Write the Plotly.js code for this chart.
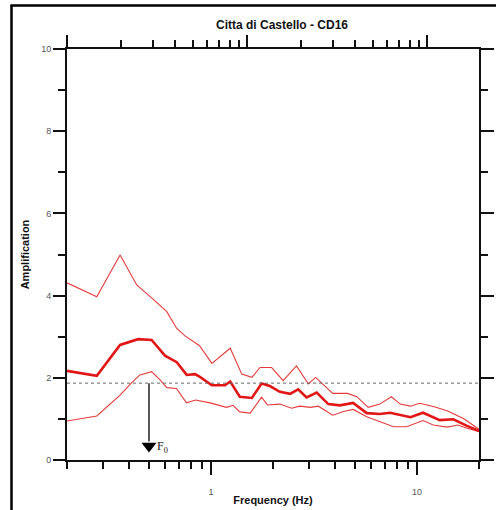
<!DOCTYPE html>
<html>
<head>
<meta charset="utf-8">
<script src="https://cdn.plot.ly/plotly-3.0.1.min.js"></script>
<style>
  html, body { margin: 0; padding: 0; background: #fff; }
  #chart { width: 496px; height: 510px; }
</style>
</head>
<body>
<div id="chart"></div>
<script>
// Mean H/V amplification curve (Hz, amplification)
const freqMean = [0.2, 0.279, 0.362, 0.443, 0.515, 0.598, 0.682, 0.762, 0.836, 0.88, 1.01, 1.17, 1.24, 1.38, 1.58, 1.76, 1.93, 2.16, 2.42, 2.65, 2.91, 3.26, 3.71, 4.22, 4.9, 5.7, 6.6, 7.4, 9.3, 10.7, 12.9, 15, 17.5, 20];
const ampMean  = [2.17, 2.05, 2.80, 2.94, 2.92, 2.54, 2.38, 2.07, 2.09, 2.03, 1.82, 1.82, 1.91, 1.54, 1.51, 1.86, 1.80, 1.66, 1.61, 1.72, 1.52, 1.64, 1.36, 1.33, 1.39, 1.14, 1.12, 1.15, 1.04, 1.15, 0.97, 0.99, 0.83, 0.71];

// Mean + one standard deviation
const freqUpper = [0.2, 0.279, 0.362, 0.436, 0.525, 0.61, 0.682, 0.748, 0.88, 1.01, 1.24, 1.41, 1.58, 1.73, 1.97, 2.24, 2.6, 2.97, 3.22, 3.58, 3.9, 4.6, 5.1, 5.8, 6.6, 7.5, 8.3, 9.3, 10.3, 12, 14, 16.8, 20];
const ampUpper  = [4.31, 3.97, 4.99, 4.26, 3.91, 3.61, 3.20, 3.02, 2.78, 2.35, 2.72, 2.09, 2.01, 2.25, 2.25, 1.93, 2.29, 1.85, 2.01, 1.80, 1.62, 1.62, 1.54, 1.28, 1.36, 1.54, 1.36, 1.31, 1.38, 1.30, 1.20, 1.01, 0.75];

// Mean - one standard deviation
const freqLower = [0.2, 0.279, 0.362, 0.41, 0.452, 0.515, 0.566, 0.61, 0.68, 0.76, 0.84, 0.99, 1.19, 1.28, 1.38, 1.55, 1.76, 1.88, 2.16, 2.46, 2.7, 3.04, 3.32, 3.9, 4.4, 4.9, 5.7, 6.6, 7.7, 8.9, 10.7, 12, 14, 15.8, 17.5, 20];
const ampLower  = [0.95, 1.07, 1.58, 1.87, 2.07, 2.15, 1.95, 1.76, 1.74, 1.39, 1.46, 1.39, 1.28, 1.33, 1.17, 1.14, 1.53, 1.34, 1.36, 1.26, 1.31, 1.28, 1.31, 1.09, 1.18, 1.23, 1.05, 0.93, 0.81, 0.81, 0.96, 0.85, 0.80, 0.85, 0.77, 0.69];

// Fundamental frequency and reference amplification level
const f0 = 0.5;
const refLevel = 1.87;

// Tick values
const xMajorTicks = [1, 10];
const xMinorTicks = [0.2, 0.3, 0.4, 0.5, 0.6, 0.7, 0.8, 0.9, 2, 3, 4, 5, 6, 7, 8, 9, 20];
const yMajorTicks = [0, 2, 4, 6, 8, 10];
const yMinorTicks = [1, 3, 5, 7, 9];
const topMajorTicks = [1, 10, 100];
const topMinorTicks = [2, 3, 4, 5, 6, 7, 8, 9, 20, 30, 40, 50, 60, 70, 80, 90];

const W = 496, H = 510;
const M = { l: 67, r: 17, t: 49, b: 50 };
const pw = W - M.l - M.r, ph = H - M.t - M.b;
const px = v => (v - M.l) / pw;          // pixel -> paper x
const py = v => (H - M.b - v) / ph;      // pixel -> paper y

const red = 'rgb(226,22,22)';
const redThin = 'rgb(228,60,60)';

const traces = [
  { x: freqUpper, y: ampUpper, mode: 'lines', line: { color: redThin, width: 1.1 }, hoverinfo: 'skip' },
  { x: freqLower, y: ampLower, mode: 'lines', line: { color: redThin, width: 1.1 }, hoverinfo: 'skip' },
  { x: freqMean, y: ampMean, mode: 'lines', line: { color: red, width: 2.6 }, hoverinfo: 'skip' },
  // arrow head marking F0
  { x: [f0], y: [0.34], mode: 'markers', marker: { symbol: 'triangle-down', size: 13, color: '#000' }, hoverinfo: 'skip' },
  // carriers for the secondary (tick-only) axes
  { x: [], y: [], xaxis: 'x2', yaxis: 'y', mode: 'lines', hoverinfo: 'skip' },
  { x: [], y: [], xaxis: 'x', yaxis: 'y2', mode: 'lines', hoverinfo: 'skip' }
];

const axisCommon = {
  showgrid: false, zeroline: false, showline: true,
  linecolor: '#111', linewidth: 2, ticks: 'outside', tickcolor: '#111', tickwidth: 2
};

const layout = {
  width: W, height: H, margin: M,
  paper_bgcolor: '#fff', plot_bgcolor: '#fff',
  showlegend: false,
  font: { family: 'Liberation Sans, Arial, sans-serif', color: '#222' },
  title: {
    text: 'Citta di Castello - CD16',
    font: { size: 12, weight: 'bold', color: '#111' },
    x: px(282), xref: 'paper', xanchor: 'center',
    y: 1 - 25 / H, yref: 'container', yanchor: 'middle'
  },
  xaxis: Object.assign({}, axisCommon, {
    type: 'log', range: [Math.log10(0.2), Math.log10(20)],
    tickmode: 'array', tickvals: xMajorTicks, ticktext: ['1', '10'], ticklen: 13,
    tickfont: { size: 9, color: '#555' }, ticklabelstandoff: 9,
    minor: { tickmode: 'array', tickvals: xMinorTicks, ticks: 'outside', ticklen: 7, tickwidth: 2, tickcolor: '#111' },
    title: { text: 'Frequency (Hz)', font: { size: 11, weight: 'bold', color: '#111' }, standoff: 1 }
  }),
  xaxis2: Object.assign({}, axisCommon, {
    type: 'log', range: [0, 412 / 180], overlaying: 'x', side: 'top', anchor: 'y',
    tickmode: 'array', tickvals: topMajorTicks, ticklen: 12, showticklabels: false,
    minor: { tickmode: 'array', tickvals: topMinorTicks, ticks: 'outside', ticklen: 7, tickwidth: 2, tickcolor: '#111' }
  }),
  yaxis: Object.assign({}, axisCommon, {
    range: [0, 10],
    tickmode: 'array', tickvals: yMajorTicks, ticklen: 12,
    tickfont: { size: 9, color: '#555' },
    minor: { tickmode: 'array', tickvals: yMinorTicks, ticks: 'outside', ticklen: 7, tickwidth: 2, tickcolor: '#111' },
    title: { text: 'Amplification', font: { size: 11, weight: 'bold', color: '#111' }, standoff: 9 }
  }),
  yaxis2: Object.assign({}, axisCommon, {
    range: [0, 10], overlaying: 'y', side: 'right', anchor: 'x',
    tickmode: 'array', tickvals: yMajorTicks, ticklen: 13, showticklabels: false,
    minor: { tickmode: 'array', tickvals: yMinorTicks, ticks: 'outside', ticklen: 7, tickwidth: 2, tickcolor: '#111' }
  }),
  shapes: [
    // reference amplification level
    { type: 'line', xref: 'paper', yref: 'y', x0: 0, x1: 1, y0: refLevel, y1: refLevel,
      line: { color: '#666', width: 1, dash: 'dot' } },
    // F0 arrow shaft
    { type: 'line', xref: 'x', yref: 'y', x0: f0, x1: f0, y0: refLevel, y1: 0.45,
      line: { color: '#111', width: 1.4 } },
    // page frame
    { type: 'line', xref: 'paper', yref: 'paper', x0: px(11.5), x1: px(11.5), y0: py(5), y1: py(512),
      line: { color: '#000', width: 2.5 } },
    { type: 'line', xref: 'paper', yref: 'paper', x0: px(10.5), x1: px(498), y0: py(5.5), y1: py(5.5),
      line: { color: '#000', width: 2.5 } }
  ],
  annotations: [
    { x: Math.log10(f0), y: 0.32, xref: 'x', yref: 'y', xanchor: 'left', yanchor: 'middle',
      xshift: 6, showarrow: false, text: 'F<sub>0</sub>',
      font: { family: 'Liberation Serif, DejaVu Serif, serif', size: 12, color: '#222' } }
  ]
};

Plotly.newPlot('chart', traces, layout, { staticPlot: true, displayModeBar: false });
</script>
</body>
</html>
